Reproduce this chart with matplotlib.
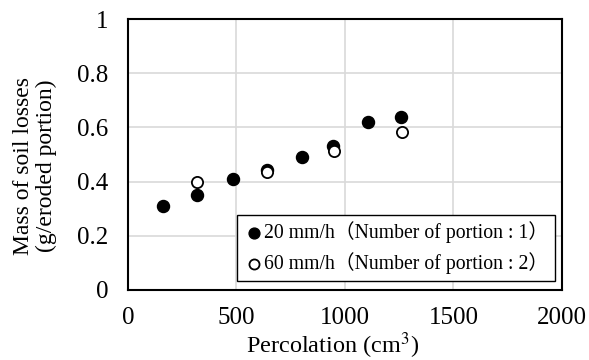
import matplotlib
matplotlib.use("Agg")
import matplotlib.pyplot as plt

plt.rcParams['font.family'] = ['Liberation Serif', 'Noto Sans CJK JP']
plt.rcParams['mathtext.fontset'] = 'stix'

perc_20 = [163, 319, 482, 642, 803, 946, 1104, 1256]
mass_20 = [0.311, 0.351, 0.410, 0.443, 0.491, 0.532, 0.621, 0.639]
perc_60 = [319, 639, 951, 1264]
mass_60 = [0.400, 0.435, 0.513, 0.582]

label_20 = "20 mm/h（Number of portion : 1）"
label_60 = "60 mm/h（Number of portion : 2）"
xticks = [0, 500, 1000, 1500, 2000]
yticks = [0, 0.2, 0.4, 0.6, 0.8, 1]
yticklabels = ["0", "0.2", "0.4", "0.6", "0.8", "1"]

fig = plt.figure(figsize=(5.89, 3.6), dpi=100)
ax = fig.add_axes([128/589, 1-290/360, (562-128)/589, (290-19)/360])

ax.scatter(perc_20, mass_20, s=75, c='black', edgecolors='black', linewidths=1.0, zorder=3, label=label_20)
ax.scatter(perc_60, mass_60, s=65, c='white', edgecolors='black', linewidths=1.3, zorder=4, label=label_60)

ax.set_xlim(0, 2000)
ax.set_ylim(0, 1)
ax.set_xticks(xticks)
ax.set_yticks(yticks)
ax.set_yticklabels(yticklabels)
ax.grid(True, color='#d9d9d9', linewidth=1.2, zorder=0)
ax.set_axisbelow(True)
ax.tick_params(length=0, labelsize=18)
ax.tick_params(axis='x', pad=12)
ax.tick_params(axis='y', pad=14)
for sp in ax.spines.values():
    sp.set_linewidth(1.5)
    sp.set_color('black')

ax.set_xlabel("Percolation (cm$^{3}$)", fontsize=17.5)
ax.xaxis.label.set_va('center')
ax.xaxis.set_label_coords((333-128)/434, -(346-290)/271)
ax.set_ylabel("Mass of soil losses\n(g/eroded portion)", fontsize=17, linespacing=1.15)
ax.yaxis.set_label_coords(-(128-35)/434, (290-166)/271)
ax.yaxis.label.set_va('center')

leg = ax.legend(loc='lower right', bbox_to_anchor=(555/589, 1-281/360), bbox_transform=fig.transFigure,
                fontsize=14.2, frameon=True, fancybox=False, edgecolor='black', framealpha=1,
                handletextpad=0.0, borderpad=0.35, labelspacing=0.45, handlelength=1.0,
                markerscale=0.9, borderaxespad=0)
leg.get_frame().set_linewidth(1.0)

fig.savefig("out.png", dpi=100)
